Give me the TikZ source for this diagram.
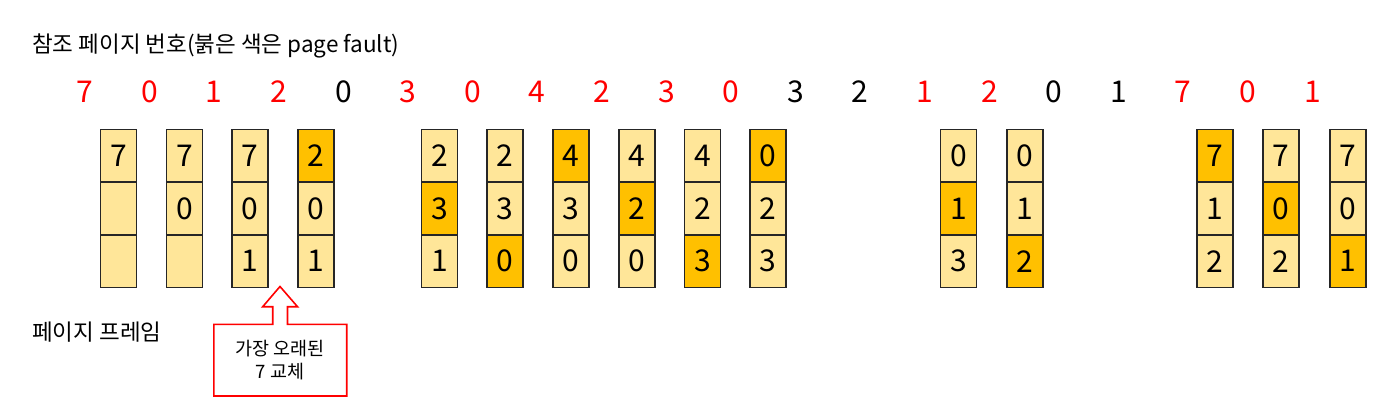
\documentclass[tikz,border=0pt]{standalone}
\usepackage{fontspec}
\setmainfont{Noto Sans CJK KR}
\definecolor{lite}{HTML}{FFE699}
\definecolor{gold}{HTML}{FFC000}
\definecolor{fred}{HTML}{FF0000}
\begin{document}
\begin{tikzpicture}[x=1pt,y=-1pt,
  cell/.style={draw=black!85,line width=1.4pt,minimum width=36pt,minimum height=52.7pt,inner sep=0pt,
    font=\fontsize{30}{34}\selectfont},
  refnum/.style={font=\fontsize{30}{34}\selectfont,inner sep=0pt},
  hit/.style={refnum,text=fred},
  miss/.style={refnum,text=black},
  label/.style={font=\fontsize{22.5}{26}\selectfont,inner sep=0pt,anchor=west},
  callout/.style={draw=fred,line width=1.6pt,fill=white,line join=miter},
  calltext/.style={font=\fontsize{18.5}{23}\selectfont,align=center,inner sep=0pt}]
\useasboundingbox (0,0) rectangle (1400,410);
\fill[white] (0,0) rectangle (1400,410);

\node[label] (title) at (32,46) {참조 페이지 번호(붉은 색은 page fault)};
\node[label] (frames) at (32,332) {페이지 프레임};

\foreach \i/\v/\s in {0/7/hit,1/0/hit,2/1/hit,3/2/hit,4/0/miss,5/3/hit,6/0/hit,7/4/hit,8/2/hit,9/3/hit,
  10/0/hit,11/3/miss,12/2/miss,13/1/hit,14/2/hit,15/0/miss,16/1/miss,17/7/hit,18/0/hit,19/1/hit}{
  \node[\s] (r\i) at ({85+64.6*\i},92) {\v};
}

\foreach \i/\x/\a/\b/\c/\fa/\fb/\fc in {
  1/118.5/7/{}/{}/lite/lite/lite,
  2/184.5/7/0/{}/lite/lite/lite,
  3/250/7/0/1/lite/lite/lite,
  4/316/2/0/1/gold/lite/lite,
  5/439.5/2/3/1/lite/gold/lite,
  6/505/2/3/0/lite/lite/gold,
  7/571/4/3/0/gold/lite/lite,
  8/637/4/2/0/lite/gold/lite,
  9/702.5/4/2/3/lite/lite/gold,
  10/768/0/2/3/gold/lite/lite,
  11/958.5/0/1/3/lite/gold/lite,
  12/1025/0/1/2/lite/lite/gold,
  13/1215/7/1/2/gold/lite/lite,
  14/1281/7/0/2/lite/gold/lite,
  15/1348/7/0/1/lite/lite/gold}{
  \node[cell,fill=\fa] (c\i-a) at (\x,155.8) {\a};
  \node[cell,fill=\fb] (c\i-b) at (\x,208.5) {\b};
  \node[cell,fill=\fc] (c\i-c) at (\x,261.2) {\c};
}

\coordinate (tip) at (280,286.5);
\draw[callout] (tip) -- (297.5,306.7) -- (287.5,306.7) -- (287.5,324.3) -- (346.7,324.3)
  -- (346.7,396) -- (213.8,396) -- (213.8,324.3) -- (272.7,324.3) -- (272.7,306.7)
  -- (262.7,306.7) -- cycle;
\node[calltext] (note) at (280,360.5) {가장 오래된\\7 교체};
\end{tikzpicture}
\end{document}
